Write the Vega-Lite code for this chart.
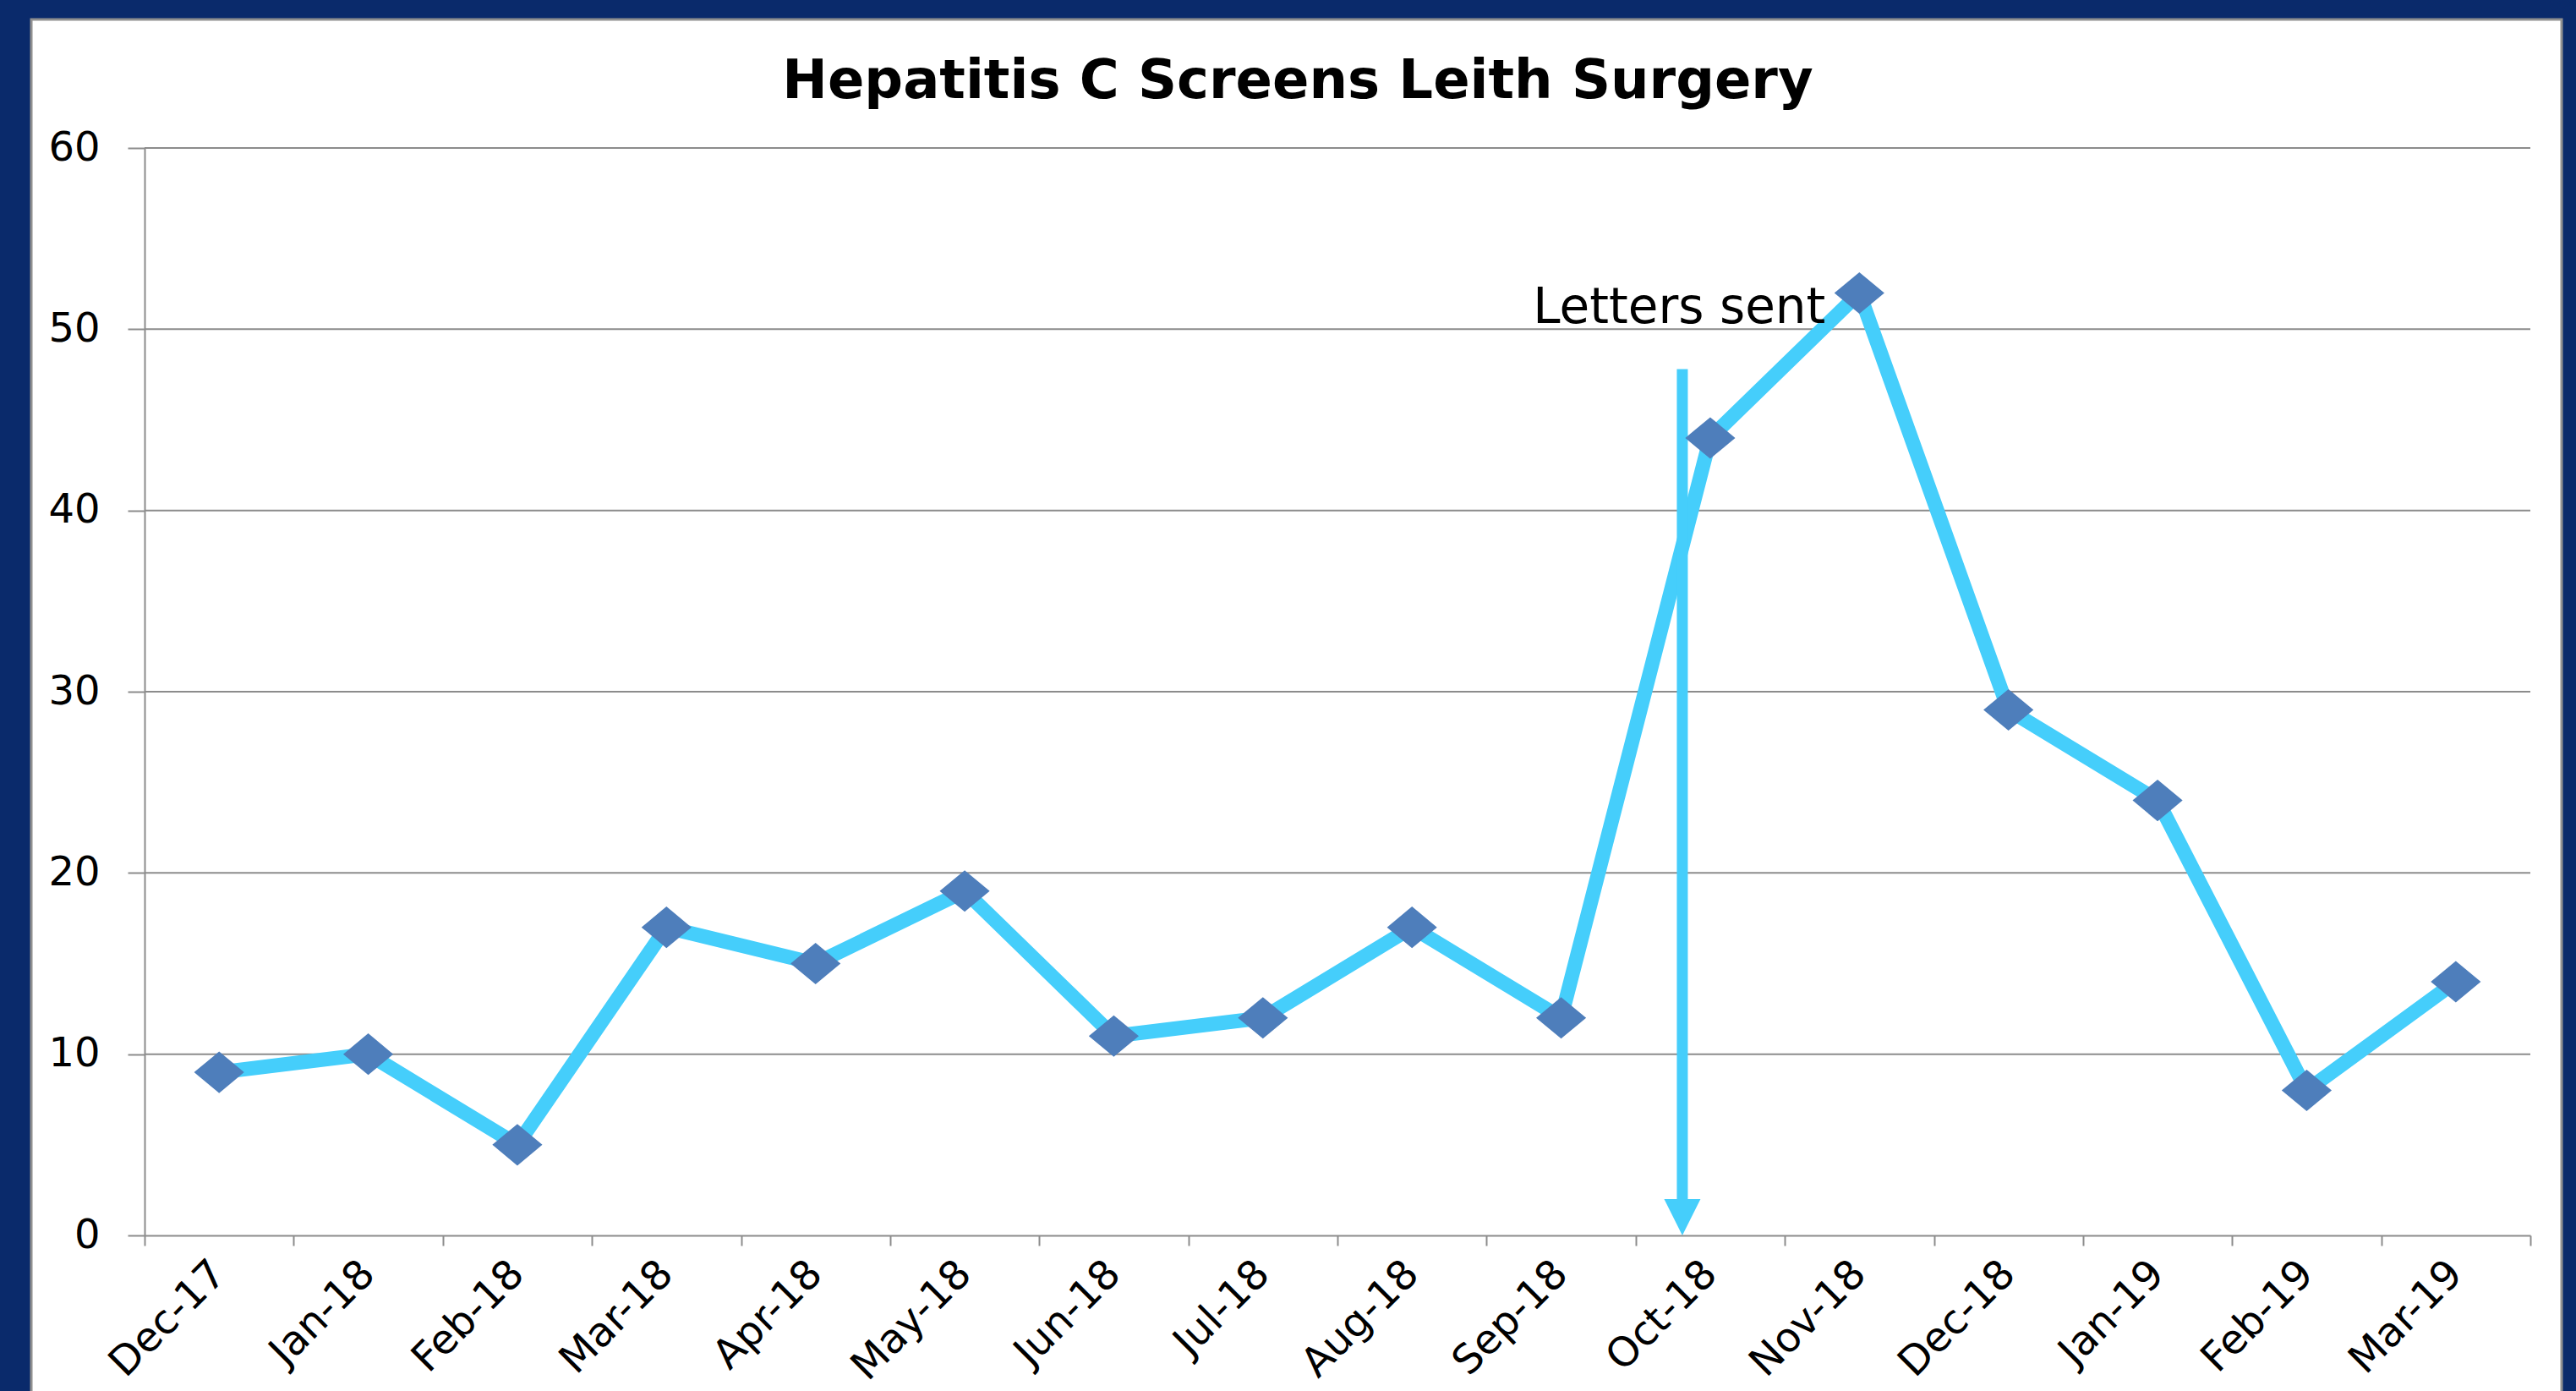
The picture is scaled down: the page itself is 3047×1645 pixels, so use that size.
{
  "$schema": "https://vega.github.io/schema/vega-lite/v6.json",
  "autosize": "none",
  "width": 2822,
  "height": 1286,
  "padding": {"left": 171, "top": 175, "right": 54, "bottom": 184},
  "background": "#0A2A6B",
  "title": {
    "text": "Hepatitis C Screens Leith Surgery",
    "font": "DejaVu Sans",
    "fontSize": 64,
    "fontWeight": "bold",
    "color": "#000000",
    "anchor": "middle",
    "baseline": "alphabetic",
    "offset": -159,
    "dx": -47
  },
  "config": {
    "view": {"stroke": null},
    "axis": {
      "zindex": 1,
      "grid": false,
      "domainColor": "#8c8c8c",
      "domainWidth": 2,
      "tickColor": "#8c8c8c",
      "tickWidth": 2,
      "labelFont": "DejaVu Sans",
      "labelFontSize": 48,
      "labelColor": "#000000",
      "labelOverlap": false,
      "labelFlush": false,
      "title": null
    }
  },
  "resolve": {"scale": {"x": "independent", "y": "independent"}},
  "layer": [
    {
      "data": {"values": [{"x0": -0.04748, "x1": 1.01311, "y0": -0.18585, "y1": 1.1182}]},
      "mark": {"type": "rect", "fill": "#ffffff", "stroke": "#909090", "strokeWidth": 3},
      "encoding": {
        "x": {"field": "x0", "type": "quantitative", "scale": {"domain": [0, 1], "zero": false, "nice": false}, "axis": null},
        "x2": {"field": "x1"},
        "y": {"field": "y0", "type": "quantitative", "scale": {"domain": [0, 1], "zero": false, "nice": false}, "axis": null},
        "y2": {"field": "y1"}
      }
    },
    {
      "data": {"values": [
        {"month": "Dec-17", "value": 9},
        {"month": "Jan-18", "value": 10},
        {"month": "Feb-18", "value": 5},
        {"month": "Mar-18", "value": 17},
        {"month": "Apr-18", "value": 15},
        {"month": "May-18", "value": 19},
        {"month": "Jun-18", "value": 11},
        {"month": "Jul-18", "value": 12},
        {"month": "Aug-18", "value": 17},
        {"month": "Sep-18", "value": 12},
        {"month": "Oct-18", "value": 44},
        {"month": "Nov-18", "value": 52},
        {"month": "Dec-18", "value": 29},
        {"month": "Jan-19", "value": 24},
        {"month": "Feb-19", "value": 8},
        {"month": "Mar-19", "value": 14}
      ]},
      "encoding": {
        "x": {
          "field": "month",
          "type": "ordinal",
          "sort": null,
          "scale": {
            "type": "band",
            "paddingInner": 0,
            "paddingOuter": 0,
            "domain": ["Dec-17", "Jan-18", "Feb-18", "Mar-18", "Apr-18", "May-18", "Jun-18", "Jul-18", "Aug-18", "Sep-18", "Oct-18", "Nov-18", "Dec-18", "Jan-19", "Feb-19", "Mar-19"]
          },
          "axis": {
            "zindex": 2,
            "tickBand": "extent",
            "tickSize": 12,
            "labelAngle": -45,
            "labelAlign": "right",
            "labelBaseline": "middle",
            "labelPadding": 26
          }
        },
        "y": {
          "field": "value",
          "type": "quantitative",
          "scale": {"domain": [0, 60], "nice": false},
          "axis": {
            "zindex": 2,
            "values": [0, 10, 20, 30, 40, 50, 60],
            "tickSize": 20,
            "labelPadding": 33
          }
        }
      },
      "layer": [
        {
          "data": {"values": [{"g": 10}, {"g": 20}, {"g": 30}, {"g": 40}, {"g": 50}, {"g": 60}]},
          "mark": {"type": "rule", "color": "#8c8c8c", "strokeWidth": 2},
          "encoding": {
            "x": null,
            "y": {"field": "g", "type": "quantitative"}
          }
        },
        {
          "mark": {"type": "line", "color": "#45CEFB", "strokeWidth": 17, "strokeJoin": "miter"}
        },
        {
          "data": {"values": [{"month": "Oct-18", "top": 47.8, "bot": 1.6}]},
          "mark": {"type": "rule", "color": "#45CEFB", "strokeWidth": 13, "strokeCap": "butt", "xOffset": -33},
          "encoding": {
            "y": {"field": "top", "type": "quantitative"},
            "y2": {"field": "bot"}
          }
        },
        {
          "data": {"values": [{"month": "Oct-18", "tip": 1.0}]},
          "mark": {"type": "point", "shape": "M-1,-1L1,-1L0,1Z", "filled": true, "opacity": 1, "color": "#45CEFB", "size": 1850, "xOffset": -33},
          "encoding": {
            "y": {"field": "tip", "type": "quantitative"}
          }
        },
        {
          "mark": {"type": "point", "shape": "M-1,0L0,-0.83L1,0L0,0.83Z", "filled": true, "opacity": 1, "color": "#4E7EBB", "size": 3500}
        },
        {
          "data": {"values": [{"month": "Nov-18", "pos": 50.35, "label": "Letters sent"}]},
          "mark": {"type": "text", "font": "DejaVu Sans", "fontSize": 58, "color": "#000000", "align": "right", "baseline": "alphabetic", "dx": -40},
          "encoding": {
            "y": {"field": "pos", "type": "quantitative"},
            "text": {"field": "label"}
          }
        }
      ]
    }
  ]
}
